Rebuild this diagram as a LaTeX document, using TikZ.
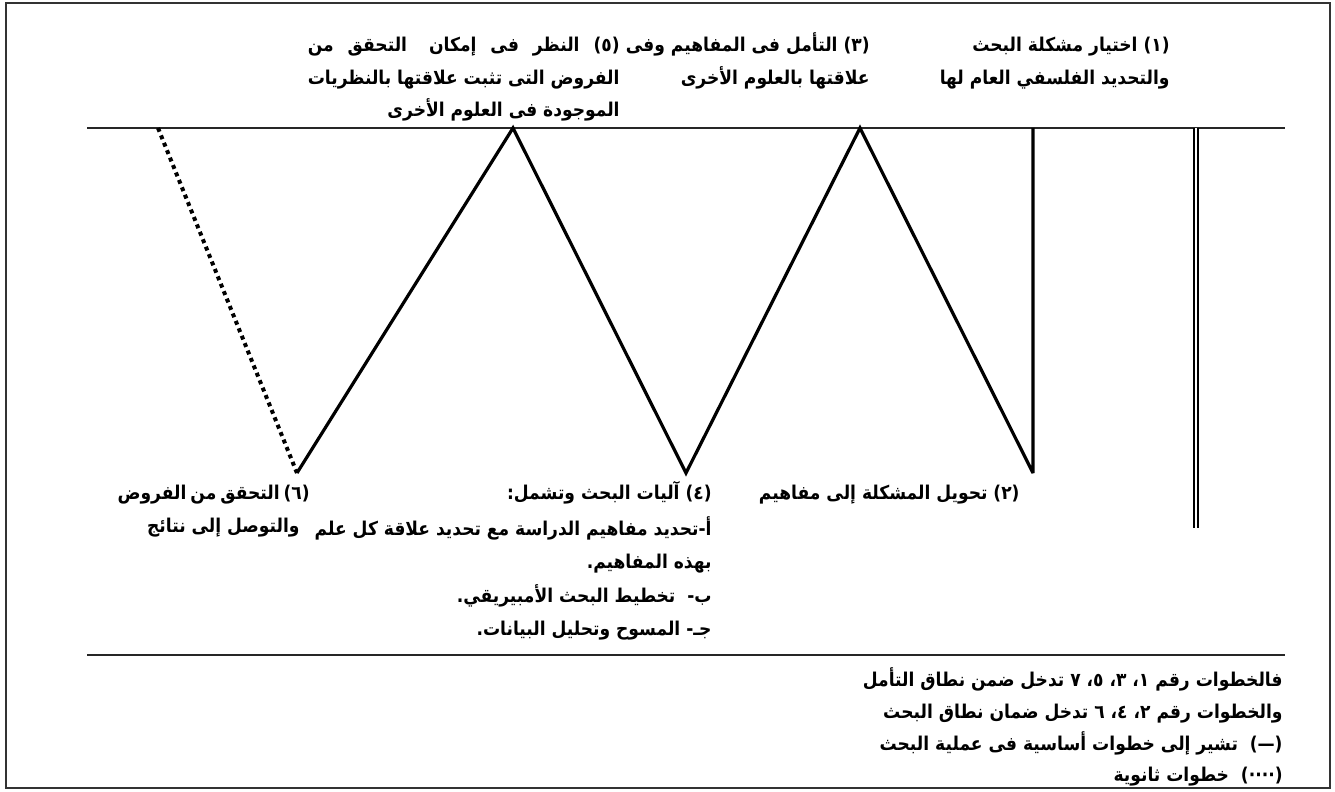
\documentclass[tikz,border=0pt]{standalone}
\usepackage{fontspec}
\setmainfont{DejaVu Sans}
\newfontfamily\arabicfont[Script=Arabic, FakeStretch=0.9]{DejaVu Sans}
\TeXXeTstate=1
\newcommand\arfont{\arabicfont\bfseries\fontsize{9.5}{12}\selectfont}
\newlength\wfive
\newlength\wsix
\begin{document}
\settowidth{\wfive}{\arfont\beginR الفروض التى تثبت علاقتها بالنظريات\endR}
\setlength{\wsix}{91pt}
\begin{tikzpicture}[x=0.5pt,y=-0.5pt,
  lbl/.style={inner sep=0pt, font=\arfont, anchor=base east},
  zig/.style={line width=1.6pt, line join=miter, miter limit=4},
  dots/.style={line width=2pt, dash pattern=on 2pt off 2pt},
  frame/.style={line width=1pt, draw=black!80},
  rule/.style={line width=1pt, draw=black!85}]
\useasboundingbox (0,0) rectangle (1335,792);
\draw[frame] (6,3) rectangle (1330,788);
% guide lines
\coordinate (L0) at (87,128); \coordinate (L1) at (1285,128);
\draw[rule] (L0) -- (L1);
\coordinate (s0) at (87,655); \coordinate (s1) at (1285,655);
\draw[rule] (s0) -- (s1);
% zigzag
\coordinate (d0) at (158,128);
\coordinate (b1) at (297,473);
\coordinate (t1) at (513,128);
\coordinate (b2) at (686,473);
\coordinate (t2) at (860,128);
\coordinate (b3) at (1033,473);
\coordinate (t3) at (1033,128);
\draw[dots] (d0) -- (b1);
\draw[zig] (b1) -- (t1) -- (b2) -- (t2) -- (b3) -- (t3);
\coordinate (v0) at (1196,128); \coordinate (v1) at (1196,528);
\draw[line width=0.9pt, double, double distance=1.4pt] (v0) -- (v1);
% top texts
\node[lbl] (n5a) at (620,52) {\hbox to \wfive{\beginR (٥) \hfill النظر \hfill فى \hfill إمكان \hfill\hfill التحقق \hfill من\endR}};
\node[lbl] (n5b) at (620,85) {\beginR الفروض التى تثبت علاقتها بالنظريات\endR};
\node[lbl] (n5c) at (620,117) {\beginR الموجودة فى العلوم الأخرى\endR};
\node[lbl] (n3a) at (870,52) {\beginR (٣) التأمل فى المفاهيم وفى\endR};
\node[lbl] (n3b) at (870,85) {\beginR علاقتها بالعلوم الأخرى\endR};
\node[lbl] (n1a) at (1170,52) {\beginR (١) اختيار مشكلة البحث\endR};
\node[lbl] (n1b) at (1170,85) {\beginR والتحديد الفلسفي العام لها\endR};
% bottom texts
\node[lbl] (n6a) at (300,499) {\hbox to \wsix{\beginR (٦) \hfill التحقق \hfill من \hfill الفروض\endR}};
\node[lbl] (n6b) at (300,532) {\beginR والتوصل إلى نتائج\endR};
\node[lbl] (n4a) at (712,499) {\beginR (٤) آليات البحث وتشمل:\endR};
\node[lbl] (n4b) at (712,535) {\beginR أ-تحديد مفاهيم الدراسة مع تحديد علاقة كل علم\endR};
\node[lbl] (n4c) at (712,568) {\beginR بهذه المفاهيم.\endR};
\node[lbl] (n4d) at (712,602) {\beginR ب- \ تخطيط البحث الأمبيريقي.\endR};
\node[lbl] (n4e) at (712,635) {\beginR جـ- المسوح وتحليل البيانات.\endR};
\node[lbl] (n2a) at (1020,499) {\beginR (٢) تحويل المشكلة إلى مفاهيم\endR};
% legend
\node[lbl] (g1) at (1283,686) {\beginR فالخطوات رقم ١، ٣، ٥، ٧ تدخل ضمن نطاق التأمل\endR};
\node[lbl] (g2) at (1283,718) {\beginR والخطوات رقم ٢، ٤، ٦ تدخل ضمان نطاق البحث\endR};
\node[lbl] (g3) at (1283,750) {\beginR (—) \ تشير إلى خطوات أساسية فى عملية البحث\endR};
\node[lbl] (g4) at (1283,781) {\beginR (····) \ خطوات ثانوية\endR};
\end{tikzpicture}
\end{document}
